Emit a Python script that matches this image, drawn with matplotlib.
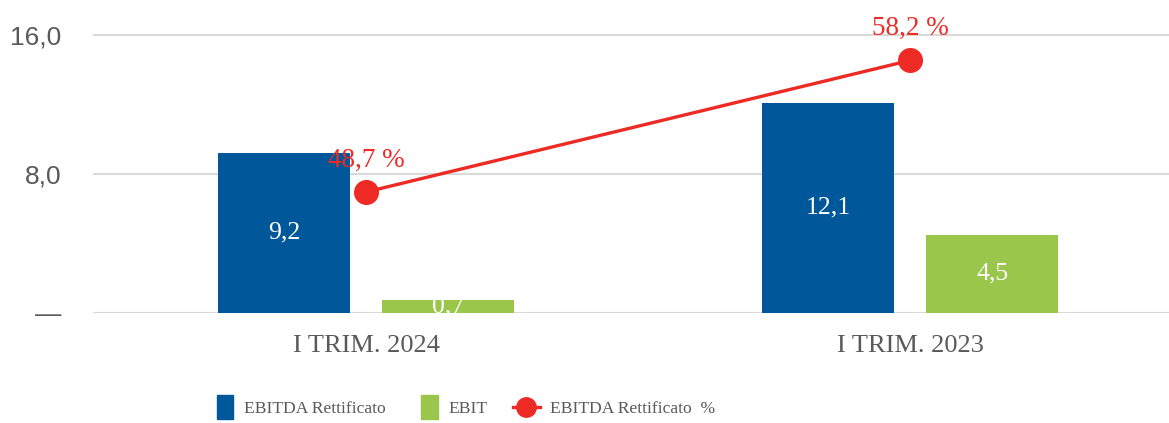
import matplotlib
matplotlib.use('Agg')
import matplotlib.pyplot as plt
import matplotlib.patches as mpatches
from matplotlib.legend_handler import HandlerPatch
import numpy as np

plt.rcParams['font.family'] = ['Liberation Sans', 'DejaVu Sans']

# data
periods = ['I TRIM. 2024', 'I TRIM. 2023']
ebitda = [9.2, 12.1]
ebit = [0.7, 4.5]
margin = [48.7, 58.2]
ebitda_lbl = ['9,2', '12,1']
ebit_lbl = ['0,7', '4,5']
margin_lbl = ['48,7 %', '58,2 %']
yticks = [0, 8, 16]
ytick_lbl = ['\u2014', '8,0', '16,0']

blue = '#00589A'
green = '#99C64B'
red = '#EE2A24'
grey = '#595959'
serif = 'Liberation Serif'

fig = plt.figure(figsize=(11.69, 4.23), dpi=100)
W, H = 1169.0, 423.0
# axes: left 93px, right edge of fig, bottom at y=312.5px, top at fig top
ax = fig.add_axes([93 / W, (H - 312.5) / H, (W - 93) / W, 312.5 / H])

x = np.arange(len(periods))
bw = 0.243
off = 0.151

ax.bar(x - off, ebitda, bw, color=blue, zorder=2)
ax.bar(x + off, ebit, bw, color=green, zorder=2)

for i in range(len(x)):
    ax.text(x[i] - off, ebitda[i] / 2, ebitda_lbl[i], ha='center', va='center',
            color='white', fontsize=18.5, family=serif, zorder=3)
    ax.text(x[i] + off, ebit[i] / 2, ebit_lbl[i], ha='center', va='center',
            color='white', fontsize=18.5, family=serif, zorder=3)

ymax = 18.05
ax.set_xlim(-0.502, 1.476)
ax.set_ylim(0, ymax)
ax.set_yticks(yticks)
ax.set_yticklabels(ytick_lbl)
for t in ax.get_yticklabels():
    t.set_fontfamily('Liberation Sans')
    t.set_fontsize(19)
    t.set_color(grey)
ax.set_xticks(x)
ax.set_xticklabels(periods)
for t in ax.get_xticklabels():
    t.set_fontfamily(serif)
    t.set_fontsize(19)
    t.set_color(grey)
ax.tick_params(length=0)
ax.tick_params(axis='y', pad=23)
ax.tick_params(axis='x', pad=16)
ax.grid(axis='y', color='#D9D9D9', lw=1.5, zorder=0)
for s in ax.spines.values():
    s.set_visible(False)

# secondary axis for the margin line (40..60 maps onto 0..16)
ax2 = ax.twinx()
ax2.set_ylim(40, 40 + ymax * 20 / 16)
ax2.axis('off')
line, = ax2.plot(x, margin, color=red, lw=2.4, marker='o', markersize=17, zorder=4)
for i in range(len(x)):
    ax2.annotate(margin_lbl[i], (x[i], margin[i]), xytext=(0, 23),
                 textcoords='offset points', ha='center', va='center',
                 color=red, fontsize=19.5, family=serif)


# narrow tall squares for the bar entries, at the right of the handle box
def square(legend, orig_handle, xdescent, ydescent, width, height, fontsize):
    w, h = 12, 17
    return mpatches.Rectangle((-xdescent + width - w, -ydescent + height / 2 - h / 2), w, h)


handles = [mpatches.Patch(color=blue), mpatches.Patch(color=green), line]
labels = ['EBITDA Rettificato', 'EBIT', 'EBITDA Rettificato  %']
leg = fig.legend(handles, labels, loc='center', bbox_to_anchor=(461 / W, 1 - 409 / H),
                 ncol=3, frameon=False, handlelength=1.5,
                 columnspacing=1.5, handletextpad=0.58,
                 handler_map={mpatches.Patch: HandlerPatch(patch_func=square)},
                 prop={'family': serif, 'size': 12.6})
for t in leg.get_texts():
    t.set_color(grey)
leg.legend_handles[2].set_markersize(14)

fig.savefig('out.png', dpi=100)
